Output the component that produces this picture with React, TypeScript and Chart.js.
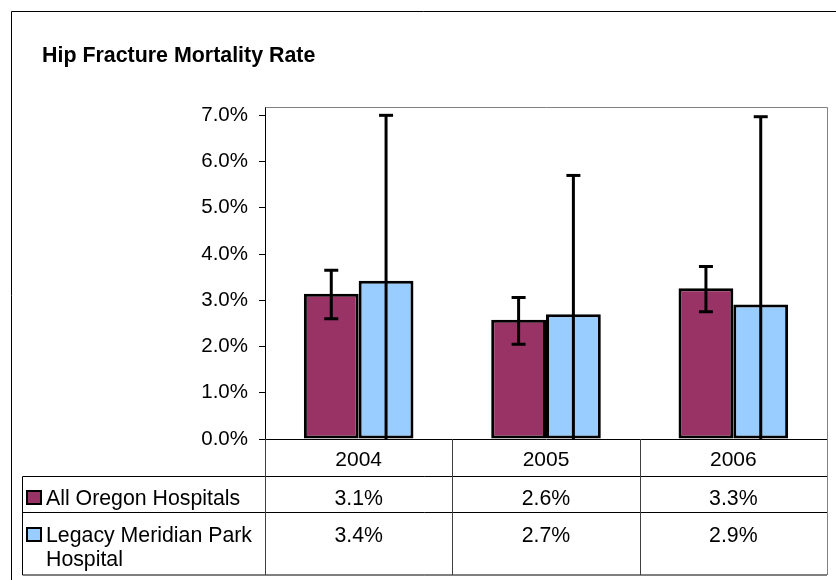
import React, { useEffect, useRef } from "react";
import { Chart, registerables } from "chart.js";

Chart.register(...registerables);

const categories = ["2004", "2005", "2006"];
const seriesNames = ["All Oregon Hospitals", "Legacy Meridian Park Hospital"];
const legendLines = [["All Oregon Hospitals"], ["Legacy Meridian Park", "Hospital"]];
const allOregon = [3.14, 2.58, 3.26];
const legacy = [3.42, 2.7, 2.91];
const allOregonUpper = [3.65, 3.06, 3.73];
const allOregonLower = [2.6, 2.05, 2.75];
const legacyUpper = [7.0, 5.7, 6.97];
const legacyLower = [0, 0, 0];
const yTicks = [0, 1, 2, 3, 4, 5, 6, 7];
const colors = ["#993366", "#99CCFF"];

const FONT = '"Liberation Sans", Arial, sans-serif';

const errorBars = [
  { upper: allOregonUpper, lower: allOregonLower },
  { upper: legacyUpper, lower: legacyLower },
];
const tableValues = [allOregon, legacy];

const extrasPlugin = {
  id: "extras",
  afterDatasetsDraw(chart: any) {
    const { ctx, chartArea, scales } = chart;
    const y = scales.y;
    ctx.save();
    ctx.beginPath();
    ctx.rect(chartArea.left, chartArea.top, chartArea.right - chartArea.left, chartArea.bottom - chartArea.top + 1);
    ctx.clip();
    ctx.strokeStyle = "#000";
    ctx.lineWidth = 3;
    errorBars.forEach((eb, di) => {
      const meta = chart.getDatasetMeta(di);
      meta.data.forEach((bar: any, i: number) => {
        const x = bar.x;
        const yu = y.getPixelForValue(eb.upper[i]);
        const yl = y.getPixelForValue(eb.lower[i]);
        ctx.beginPath();
        ctx.moveTo(x, yu);
        ctx.lineTo(x, yl);
        ctx.stroke();
        ctx.beginPath();
        ctx.moveTo(x - 7, yu);
        ctx.lineTo(x + 7, yu);
        if (eb.lower[i] > 0) {
          ctx.moveTo(x - 7, yl);
          ctx.lineTo(x + 7, yl);
        }
        ctx.stroke();
      });
    });
    ctx.restore();
  },
  afterDraw(chart: any) {
    const { ctx, chartArea, scales } = chart;
    const xs = scales.x;
    const L = chartArea.left;
    const R = chartArea.right;
    const B = chartArea.bottom;
    const T = chartArea.top;
    ctx.save();
    // outer chart border
    ctx.strokeStyle = "#000";
    ctx.lineWidth = 1;
    ctx.beginPath();
    ctx.moveTo(11.5, chart.height);
    ctx.lineTo(11.5, 11.5);
    ctx.lineTo(chart.width, 11.5);
    ctx.stroke();
    // title
    ctx.fillStyle = "#000";
    ctx.font = "bold 21.4px " + FONT;
    ctx.textAlign = "left";
    ctx.textBaseline = "alphabetic";
    ctx.fillText("Hip Fracture Mortality Rate", 42, 62);
    // plot area top/right border
    ctx.strokeStyle = "#808080";
    ctx.beginPath();
    ctx.moveTo(Math.round(L) + 0.5, Math.round(T) + 0.5);
    ctx.lineTo(Math.round(R) + 0.5, Math.round(T) + 0.5);
    ctx.lineTo(Math.round(R) + 0.5, Math.round(B) + 136);
    ctx.stroke();
    // table grid
    const row1 = Math.round(B) + 37.5;
    const row2 = Math.round(B) + 73.5;
    const row3 = Math.round(B) + 136;
    const tl = 22.5;
    ctx.strokeStyle = "#000";
    ctx.beginPath();
    ctx.moveTo(tl, row1);
    ctx.lineTo(R, row1);
    ctx.moveTo(tl, row2);
    ctx.lineTo(R, row2);
    ctx.moveTo(tl, row3);
    ctx.lineTo(R, row3);
    ctx.moveTo(tl, row1);
    ctx.lineTo(tl, row3);
    ctx.stroke();
    ctx.strokeStyle = "#404040";
    ctx.beginPath();
    const half = (xs.getPixelForValue(1) - xs.getPixelForValue(0)) / 2;
    const bounds = [L];
    for (let i = 0; i < categories.length - 1; i++) bounds.push(xs.getPixelForValue(i) + half);
    bounds.forEach((bx) => {
      const px = Math.round(bx) + 0.5;
      ctx.moveTo(px, B);
      ctx.lineTo(px, row3);
    });
    ctx.stroke();
    // legend keys + text
    ctx.font = "21.3px " + FONT;
    ctx.fillStyle = "#000";
    const baselines = [[row1 + 28], [row2 + 29, row2 + 53]];
    seriesNames.forEach((_, si) => {
      const keyTop = baselines[si][0] - 13.5;
      ctx.fillStyle = colors[si];
      ctx.fillRect(27, keyTop, 14, 13);
      ctx.strokeStyle = "#000";
      ctx.lineWidth = 2;
      ctx.strokeRect(27, keyTop, 14, 13);
      ctx.fillStyle = "#000";
      ctx.textAlign = "left";
      legendLines[si].forEach((line, li) => {
        ctx.fillText(line, 46, baselines[si][li]);
      });
      ctx.textAlign = "center";
      tableValues[si].forEach((v, ci) => {
        ctx.fillText(v.toFixed(1) + "%", xs.getPixelForValue(ci), baselines[si][0]);
      });
    });
    ctx.restore();
  },
};

export default function App() {
  const ref = useRef<HTMLCanvasElement>(null);
  useEffect(() => {
    if (!ref.current) return;
    const chart = new Chart(ref.current, {
      type: "bar",
      data: {
        labels: categories,
        datasets: [
          {
            label: seriesNames[0],
            data: allOregon,
            backgroundColor: colors[0],
            borderColor: "#000",
            borderWidth: 3,
            borderSkipped: false,
            categoryPercentage: 0.585,
            barPercentage: 1,
          },
          {
            label: seriesNames[1],
            data: legacy,
            backgroundColor: colors[1],
            borderColor: "#000",
            borderWidth: 3,
            borderSkipped: false,
            categoryPercentage: 0.585,
            barPercentage: 1,
          },
        ],
      },
      options: {
        animation: false,
        responsive: false,
        devicePixelRatio: 1,
        layout: { padding: { top: 107, right: 9, left: 0, bottom: 0 } },
        plugins: {
          legend: { display: false },
          title: { display: false },
          tooltip: { enabled: false },
        },
        scales: {
          x: {
            afterFit: (axis: any) => {
              axis.height = 141;
            },
            grid: { display: false, drawTicks: false },
            border: { display: true, color: "#000", width: 1 },
            ticks: { font: { family: FONT, size: 21 }, color: "#000", padding: 9 },
          },
          y: {
            min: 0,
            max: 7.18,
            afterBuildTicks: (axis: any) => {
              axis.ticks = yTicks.map((v) => ({ value: v }));
            },
            afterFit: (axis: any) => {
              axis.width = 265;
            },
            grid: { drawOnChartArea: false, drawTicks: true, tickLength: 6, color: "#000", lineWidth: 1 },
            border: { display: true, color: "#000", width: 1 },
            ticks: {
              font: { family: FONT, size: 20.5 },
              color: "#000",
              padding: 11,
              callback: (v: any) => Number(v).toFixed(1) + "%",
            },
          },
        },
      },
      plugins: [extrasPlugin],
    });
    return () => chart.destroy();
  }, []);
  return (
    <div style={{ position: "absolute", left: 0, top: 0, width: 836, height: 580, background: "#fff" }}>
      <canvas ref={ref} width={836} height={580} />
    </div>
  );
}
